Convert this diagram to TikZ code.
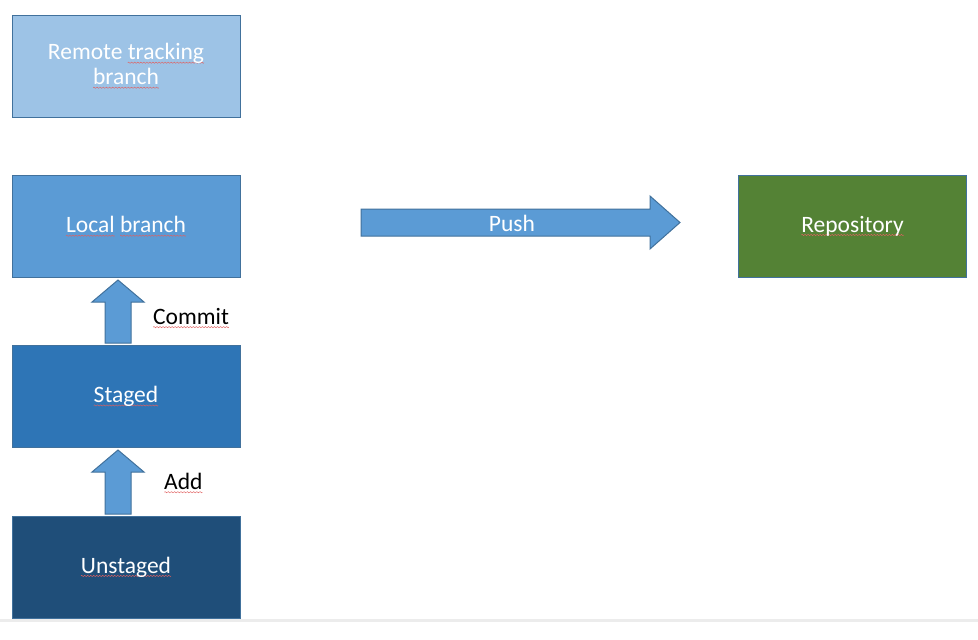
\documentclass[tikz,border=0pt]{standalone}
\usepackage{fontspec}
\setmainfont{Carlito}
\definecolor{bord}{HTML}{41719C}
\definecolor{cremote}{HTML}{9DC3E6}
\definecolor{clocal}{HTML}{5B9BD5}
\definecolor{cstaged}{HTML}{2E75B6}
\definecolor{cunstaged}{HTML}{1F4E79}
\definecolor{crepo}{HTML}{548235}
\definecolor{squigred}{HTML}{E06060}
\newsavebox\sqbox
\sbox\sqbox{\tikz{\useasboundingbox (0,-0.7pt) rectangle (3pt,0.7pt);
  \draw[squigred,line width=0.45pt] (0,0) sin (0.75pt,0.6pt) cos (1.5pt,0) sin (2.25pt,-0.6pt) cos (3pt,0);}}
\newcommand\squig[1]{\setbox0\hbox{#1}\leavevmode\rlap{\raisebox{-3.5pt}{\hbox to \wd0{\xleaders\copy\sqbox\hfil}}}\box0\relax}
\tikzset{
  statebox/.style={draw=bord,line width=1pt,minimum width=228pt,minimum height=102pt,inner sep=0pt,
    text=white,font=\fontsize{23.5}{26}\selectfont,align=center},
  blockarrow/.style={draw=bord,line width=1pt,fill=clocal},
  lbl/.style={font=\fontsize{23.5}{26}\selectfont,inner sep=0pt}
}
\begin{document}
\begin{tikzpicture}[x=1pt,y=-1pt]
\useasboundingbox (0,0) rectangle (978,640);
\fill[gray!15] (0,619) rectangle (978,621.5);
\node[statebox,fill=cremote] (remote) at (126,66) {Remote \squig{tracking}\\[-1pt]\squig{branch}};
\node[statebox,fill=clocal] (local) at (126,226.5) {\squig{Local} \squig{branch}};
\node[statebox,fill=cstaged] (staged) at (126,396.5) {\squig{Staged}};
\node[statebox,fill=cunstaged] (unstaged) at (126,567) {\squig{Unstaged}};
\node[statebox,fill=crepo] (repo) at (852.5,226) {\squig{Repository}};
% commit arrow
\coordinate (c1) at (118,280);
\draw[blockarrow] (105,343) -- (105,302) -- (92,302) -- (c1) -- (144,302) -- (131,302) -- (131,343) -- cycle;
\node[lbl,anchor=west] (commit) at (153,318) {\squig{Commit}};
% add arrow
\coordinate (a1) at (118,450);
\draw[blockarrow] (105,514) -- (105,472) -- (92,472) -- (a1) -- (144,472) -- (131,472) -- (131,514) -- cycle;
\node[lbl,anchor=west] (add) at (164,483) {\squig{Add}};
% push arrow
\draw[blockarrow] (361,209) -- (650,209) -- (650,196) -- (680,222.5) -- (650,249) -- (650,236) -- (361,236) -- cycle;
\node[lbl,text=white] (push) at (512,223) {Push};
\end{tikzpicture}
\end{document}
